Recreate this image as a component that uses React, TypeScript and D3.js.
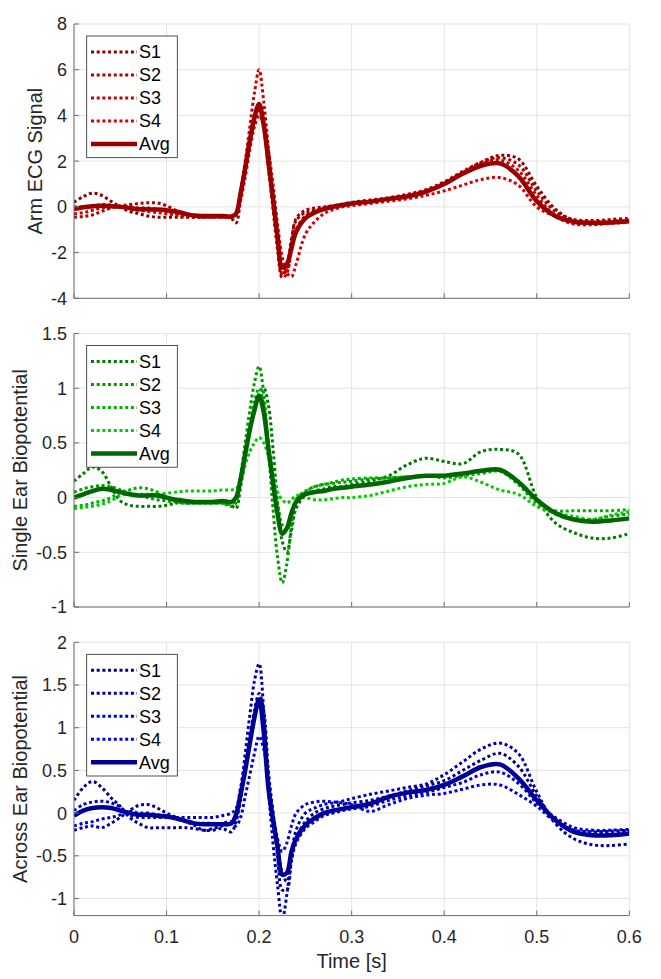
import * as d3 from "d3";

// shared time base (s), finer around the QRS complex
const times = [
  0, 0.01, 0.02, 0.03, 0.04, 0.05, 0.06, 0.07, 0.08, 0.09, 0.1, 0.11, 0.12, 0.13, 0.14, 0.15, 0.16, 0.17,
  0.175, 0.18, 0.185, 0.19, 0.195, 0.2, 0.205, 0.21, 0.215, 0.22, 0.225, 0.23, 0.235, 0.24,
  0.25, 0.26, 0.27, 0.28, 0.29, 0.3,
  0.32, 0.34, 0.36, 0.38, 0.4, 0.42, 0.44, 0.46, 0.48, 0.5, 0.52, 0.54, 0.56, 0.58, 0.6,
];

const seriesNames = ["S1", "S2", "S3", "S4", "Avg"];

// Arm ECG
const armS1 = [0.2, 0.45, 0.6, 0.5, 0.25, 0.0, -0.2, -0.3, -0.4, -0.45, -0.45, -0.45, -0.45, -0.45, -0.45, -0.45, -0.45, -0.5,
  -0.7, 0.3, 1.5, 2.8, 3.8, 4.2, 3.4, 1.8, 0.1, -1.6, -3.0, -2.6, -1.4, -0.6,
  -0.25, -0.15, -0.05, 0.05, 0.1, 0.15,
  0.25, 0.35, 0.5, 0.7, 1.05, 1.5, 1.95, 2.25, 2.1, 0.9, -0.1, -0.6, -0.72, -0.7, -0.65];
const armS2 = [-0.45, -0.42, -0.35, -0.2, -0.05, 0.05, 0.1, 0.15, 0.18, 0.17, 0.05, -0.15, -0.3, -0.4, -0.45, -0.45, -0.45, -0.45,
  -0.35, 0.6, 1.8, 3.0, 4.0, 4.3, 3.5, 1.7, -0.1, -1.9, -3.1, -2.9, -1.6, -0.5,
  -0.15, -0.05, 0.0, 0.05, 0.12, 0.2,
  0.3, 0.4, 0.55, 0.75, 1.1, 1.55, 1.95, 2.15, 1.85, 0.7, -0.2, -0.55, -0.6, -0.55, -0.5];
const armS3 = [-0.3, -0.25, -0.15, -0.05, 0.0, 0.02, 0.0, -0.05, -0.05, -0.1, -0.2, -0.3, -0.4, -0.45, -0.45, -0.4, -0.4, -0.4,
  -0.3, 0.7, 2.0, 3.5, 5.0, 6.0, 4.6, 2.6, 0.5, -1.5, -2.9, -2.8, -1.9, -1.0,
  -0.4, -0.2, -0.05, 0.05, 0.1, 0.15,
  0.25, 0.35, 0.5, 0.7, 1.0, 1.5, 1.9, 2.05, 1.6, 0.5, -0.4, -0.75, -0.78, -0.72, -0.68];
const armS4 = [0.0, 0.0, 0.05, 0.1, 0.08, 0.0, -0.08, -0.15, -0.2, -0.25, -0.3, -0.35, -0.4, -0.4, -0.4, -0.42, -0.42, -0.42,
  -0.35, 0.3, 1.3, 2.5, 3.5, 4.0, 3.6, 2.5, 1.0, -0.8, -2.2, -2.9, -3.05, -2.5,
  -1.2, -0.65, -0.3, -0.12, 0.0, 0.05,
  0.15, 0.25, 0.35, 0.5, 0.7, 0.95, 1.2, 1.28, 0.95, 0.0, -0.4, -0.6, -0.65, -0.62, -0.58];
const armAvg = [-0.1, -0.02, 0.03, 0.05, 0.03, 0.0, -0.05, -0.1, -0.1, -0.12, -0.15, -0.2, -0.3, -0.38, -0.4, -0.4, -0.4, -0.42,
  -0.3, 0.6, 1.7, 2.9, 3.9, 4.5, 3.6, 2.0, 0.4, -1.3, -2.65, -2.5, -1.8, -1.1,
  -0.5, -0.25, -0.1, 0.0, 0.08, 0.15,
  0.23, 0.35, 0.45, 0.66, 1.0, 1.45, 1.8, 1.9, 1.35, 0.25, -0.4, -0.65, -0.7, -0.68, -0.62];

// Single ear
const singleS1 = [0.15, 0.22, 0.28, 0.24, 0.1, -0.03, -0.07, -0.08, -0.08, -0.08, -0.07, -0.05, -0.05, -0.05, -0.05, -0.05, -0.05, -0.07,
  -0.1, 0.1, 0.35, 0.6, 0.82, 0.95, 1.0, 0.85, 0.45, -0.05, -0.4, -0.5, -0.3, -0.1,
  0.02, 0.06, 0.08, 0.1, 0.1, 0.12,
  0.15, 0.2, 0.3, 0.36, 0.33, 0.31, 0.42, 0.44, 0.4, 0.0, -0.23, -0.32, -0.37, -0.37, -0.33];
const singleS2 = [0.05, 0.08, 0.1, 0.11, 0.1, 0.07, 0.04, 0.02, 0.0, -0.02, -0.03, -0.04, -0.05, -0.05, -0.05, -0.05, -0.05, -0.08,
  -0.05, 0.2, 0.5, 0.8, 1.05, 1.2, 0.95, 0.45, -0.1, -0.55, -0.78, -0.6, -0.25, -0.02,
  0.06, 0.1, 0.12, 0.13, 0.14, 0.15,
  0.17, 0.18, 0.19, 0.2, 0.2, 0.22, 0.24, 0.25, 0.15, -0.02, -0.15, -0.2, -0.2, -0.17, -0.15];
const singleS3 = [-0.08, -0.07, -0.05, -0.03, 0.0, 0.05, 0.07, 0.09, 0.08, 0.05, 0.0, -0.03, -0.05, -0.05, -0.05, -0.05, -0.05, -0.06,
  -0.02, 0.2, 0.45, 0.7, 0.88, 1.0, 0.85, 0.5, 0.2, -0.05, -0.25, -0.3, -0.15, -0.02,
  0.05, 0.1, 0.12, 0.14, 0.16, 0.17,
  0.18, 0.18, 0.19, 0.2, 0.18, 0.2, 0.22, 0.24, 0.12, -0.05, -0.12, -0.12, -0.12, -0.12, -0.11];
const singleS4 = [-0.1, -0.09, -0.08, -0.06, -0.03, 0.02, 0.03, 0.03, 0.03, 0.03, 0.04, 0.05, 0.06, 0.06, 0.06, 0.06, 0.07, 0.07,
  0.08, 0.15, 0.3, 0.42, 0.5, 0.55, 0.5, 0.38, 0.2, 0.05, -0.02, -0.05, -0.02, 0.02,
  0.0, -0.02, -0.02, -0.01, 0.0, 0.0,
  0.02, 0.06, 0.1, 0.12, 0.13, 0.19, 0.14, 0.07, 0.03, -0.08, -0.14, -0.17, -0.2, -0.16, -0.13];
const singleAvg = [0.0, 0.03, 0.06, 0.08, 0.07, 0.05, 0.03, 0.02, 0.02, 0.02, 0.0, -0.02, -0.03, -0.04, -0.04, -0.04, -0.03, -0.04,
  0.0, 0.17, 0.4, 0.62, 0.8, 0.93, 0.78, 0.45, 0.14, -0.15, -0.33, -0.28, -0.14, -0.04,
  0.03, 0.05, 0.06, 0.08, 0.09, 0.1,
  0.12, 0.145, 0.18, 0.2, 0.2, 0.22, 0.245, 0.255, 0.145, -0.02, -0.14, -0.2, -0.22, -0.21, -0.19];

// Across ear
const acrossS1 = [0.15, 0.3, 0.37, 0.3, 0.18, 0.08, -0.05, -0.12, -0.17, -0.17, -0.17, -0.17, -0.17, -0.18, -0.2, -0.2, -0.18, -0.22,
  -0.1, 0.15, 0.5, 0.85, 1.2, 1.4, 1.2, 0.5, 0.0, -0.5, -0.9, -0.9, -0.55, -0.3,
  -0.1, 0.0, 0.05, 0.08, 0.1, 0.12,
  0.15, 0.2, 0.26, 0.32, 0.38, 0.5, 0.62, 0.7, 0.55, 0.2, -0.08, -0.2, -0.22, -0.21, -0.2];
const acrossS2 = [-0.2, -0.17, -0.15, -0.17, -0.12, -0.05, 0.03, 0.09, 0.1, 0.06, 0.0, -0.05, -0.1, -0.14, -0.2, -0.18, -0.15, -0.12,
  -0.05, 0.25, 0.7, 1.15, 1.55, 1.75, 1.2, 0.3, -0.35, -0.85, -1.25, -0.95, -0.5, -0.2,
  0.0, 0.06, 0.1, 0.12, 0.14, 0.17,
  0.22, 0.26, 0.3, 0.34, 0.45, 0.6, 0.75, 0.82, 0.7, 0.25, -0.12, -0.3, -0.37, -0.38, -0.36];
const acrossS3 = [0.03, 0.1, 0.13, 0.14, 0.12, 0.07, -0.02, -0.05, -0.05, -0.05, -0.05, -0.05, -0.05, -0.05, -0.05, -0.05, -0.03, 0.0,
  0.05, 0.3, 0.6, 0.9, 1.15, 1.35, 1.05, 0.4, 0.0, -0.35, -0.7, -0.8, -0.55, -0.35,
  -0.18, -0.1, -0.03, 0.0, 0.03, 0.05,
  0.08, 0.15, 0.2, 0.24, 0.3, 0.36, 0.45, 0.48, 0.35, 0.12, -0.05, -0.17, -0.2, -0.2, -0.19];
const acrossS4 = [-0.15, -0.12, -0.1, -0.07, -0.05, -0.02, 0.02, 0.0, 0.0, -0.02, -0.03, -0.06, -0.1, -0.12, -0.12, -0.12, -0.12, -0.1,
  -0.15, -0.05, 0.2, 0.45, 0.7, 0.9, 0.75, 0.4, 0.0, -0.3, -0.45, -0.35, -0.15, 0.0,
  0.1, 0.13, 0.14, 0.13, 0.12, 0.1,
  0.02, 0.1, 0.17, 0.21, 0.23, 0.28, 0.33, 0.33, 0.22, 0.08, -0.1, -0.2, -0.22, -0.23, -0.22];
const acrossAvg = [-0.03, 0.03, 0.06, 0.07, 0.06, 0.03, 0.0, -0.02, -0.02, -0.03, -0.04, -0.06, -0.09, -0.12, -0.13, -0.13, -0.13, -0.12,
  -0.02, 0.22, 0.5, 0.82, 1.12, 1.33, 0.95, 0.3, -0.08, -0.4, -0.72, -0.7, -0.45, -0.3,
  -0.14, -0.06, 0.0, 0.03, 0.05, 0.07,
  0.11, 0.19, 0.24, 0.27, 0.33, 0.43, 0.54, 0.57, 0.41, 0.15, -0.08, -0.22, -0.26, -0.26, -0.24];

const xTicks = [0, 0.1, 0.2, 0.3, 0.4, 0.5, 0.6];

const panels = [
  {
    id: "arm", label: "Arm ECG Signal", top: 24, bottom: 298.3, domain: [-4, 8],
    ticks: [-4, -2, 0, 2, 4, 6, 8], labelX: 35,
    series: [armS1, armS2, armS3, armS4, armAvg],
    colors: ["#8c0000", "#b00000", "#c40000", "#d80000", "#9a0000"],
  },
  {
    id: "single", label: "Single Ear Biopotential", top: 333.5, bottom: 607, domain: [-1, 1.5],
    ticks: [-1, -0.5, 0, 0.5, 1, 1.5], labelX: 20,
    series: [singleS1, singleS2, singleS3, singleS4, singleAvg],
    colors: ["#007a00", "#009a00", "#00b200", "#00cc00", "#006600"],
  },
  {
    id: "across", label: "Across Ear Biopotential", top: 642.3, bottom: 915.6, domain: [-1.2, 2],
    ticks: [-1, -0.5, 0, 0.5, 1, 1.5, 2], labelX: 20,
    series: [acrossS1, acrossS2, acrossS3, acrossS4, acrossAvg],
    colors: ["#00008c", "#0000b0", "#0000c8", "#0000dd", "#000099"],
  },
];

const left = 74;
const right = 629.3;
const font = "'Liberation Sans', Arial, Helvetica, sans-serif";
const textColor = "#262626";
const gridColor = "#e3e3e3";
const axisColor = "#6e6e6e";

function Panel({ p, showX }) {
  const x = d3.scaleLinear().domain([0, 0.6]).range([left, right]);
  const y = d3.scaleLinear().domain(p.domain).range([p.bottom, p.top]);
  const line = d3.line<number>()
    .x((d, i) => x(times[i]))
    .y(d => y(d))
    .curve(d3.curveCatmullRom.alpha(0.5));
  const clipId = `clip-${p.id}`;
  const legX = 86.7, legY = p.top + 12, legW = 90.6, legH = 121.7;

  return (
    <g>
      <defs>
        <clipPath id={clipId}>
          <rect x={left} y={p.top} width={right - left} height={p.bottom - p.top} />
        </clipPath>
      </defs>
      {xTicks.map(t => (
        <line key={"gx" + t} x1={x(t)} x2={x(t)} y1={p.top} y2={p.bottom} stroke={gridColor} strokeWidth={1} />
      ))}
      {p.ticks.map(t => (
        <line key={"gy" + t} x1={left} x2={right} y1={y(t)} y2={y(t)} stroke={gridColor} strokeWidth={1} />
      ))}
      <g clipPath={`url(#${clipId})`}>
        {p.series.slice(0, 4).map((s, i) => (
          <path key={i} d={line(s)} fill="none" stroke={p.colors[i]} strokeWidth={3}
            strokeDasharray="3 2.7" />
        ))}
        <path d={line(p.series[4])} fill="none" stroke={p.colors[4]} strokeWidth={4.5}
          strokeLinejoin="round" />
      </g>
      {/* axes */}
      <line x1={left} x2={left} y1={p.top} y2={p.bottom} stroke={axisColor} strokeWidth={1} />
      <line x1={left} x2={right} y1={p.bottom} y2={p.bottom} stroke={axisColor} strokeWidth={1} />
      {p.ticks.map(t => (
        <g key={"ty" + t}>
          <line x1={left} x2={left + 5} y1={y(t)} y2={y(t)} stroke={axisColor} />
          <text x={67} y={y(t)} dy="0.36em" textAnchor="end" fontSize={18} fill={textColor}
            fontFamily={font}>{t}</text>
        </g>
      ))}
      {xTicks.map(t => (
        <line key={"tx" + t} x1={x(t)} x2={x(t)} y1={p.bottom} y2={p.bottom - 5} stroke={axisColor} />
      ))}
      {showX && xTicks.map(t => (
        <text key={"lx" + t} x={x(t)} y={943} textAnchor="middle" fontSize={18} fill={textColor}
          fontFamily={font}>{t}</text>
      ))}
      <text transform={`translate(${p.labelX + 7},${(p.top + p.bottom) / 2}) rotate(-90)`}
        textAnchor="middle" fontSize={20} fill={textColor} fontFamily={font}>{p.label}</text>
      {/* legend */}
      <rect x={legX} y={legY} width={legW} height={legH} fill="white" stroke="#262626" strokeWidth={0.8} />
      {seriesNames.map((n, i) => {
        const ly = legY + 16 + i * 23;
        return (
          <g key={n}>
            <line x1={91} x2={137} y1={ly} y2={ly} stroke={p.colors[i]}
              strokeWidth={i === 4 ? 4.5 : 3} strokeDasharray={i === 4 ? undefined : "3 2.7"} />
            <text x={139} y={ly} dy="0.36em" fontSize={18} fill="#000" fontFamily={font}>{n}</text>
          </g>
        );
      })}
    </g>
  );
}

export default function App() {
  return (
    <svg width={661} height={979} style={{ position: "absolute", left: 0, top: 0, background: "white" }}>
      {panels.map((p, i) => (
        <Panel key={p.id} p={p} showX={i === 2} />
      ))}
      <text x={(left + right) / 2} y={968} textAnchor="middle" fontSize={20} fill={textColor}
        fontFamily={font}>Time [s]</text>
    </svg>
  );
}
